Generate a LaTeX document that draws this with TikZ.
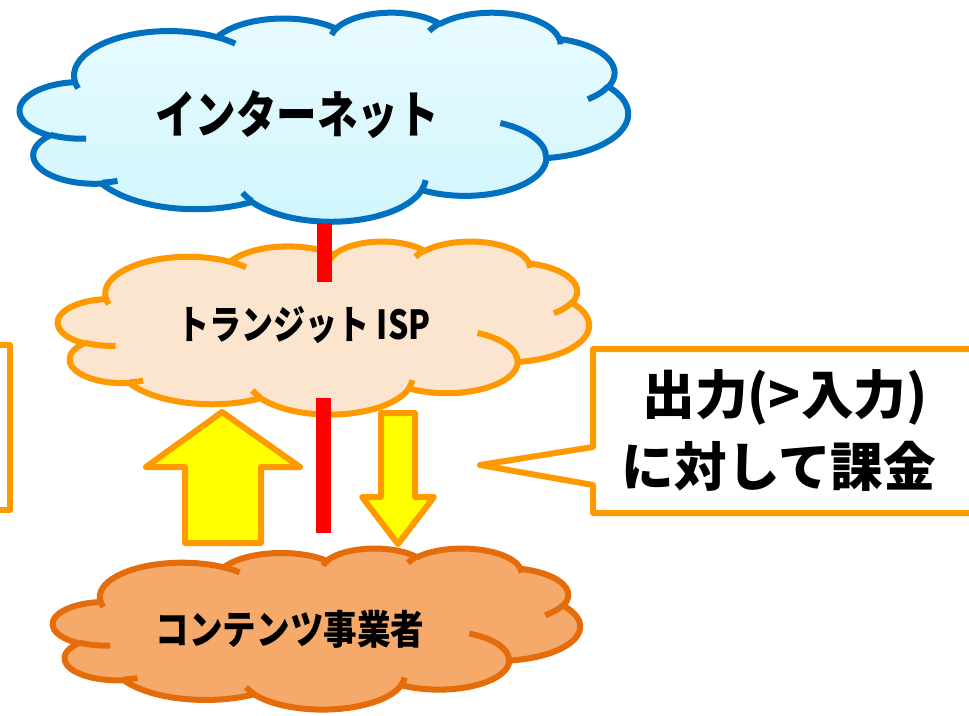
\documentclass[tikz,border=0pt]{standalone}
\usepackage{fontspec}
\newfontfamily\jpa{Noto Sans CJK JP}[FakeStretch=0.80]
\newfontfamily\jpb{Noto Sans CJK JP}[FakeStretch=0.84]
\newfontfamily\jp{Noto Sans CJK JP}
\definecolor{cblue}{HTML}{0070C0}
\definecolor{ctopA}{HTML}{E9FBFF}
\definecolor{ctopB}{HTML}{CFF6FD}
\definecolor{corange}{HTML}{FF9900}
\definecolor{cpeach}{HTML}{FBE5CF}
\definecolor{cdark}{HTML}{E46C0A}
\definecolor{cbottom}{HTML}{F5AA6B}
\definecolor{cred}{HTML}{FF0000}
\definecolor{cyellow}{HTML}{FFFF00}
% one elliptical arc of a DrawingML arcTo (visual angles -> parametric angles)
\newcommand\carc[4]{\pgfextra{%
  \pgfmathsetmacro\cta{atan2((#1)*sin(#3),(#2)*cos(#3))}%
  \pgfmathsetmacro\ctb{atan2((#1)*sin((#3)+(#4)),(#2)*cos((#3)+(#4)))}%
  \pgfmathsetmacro\ctd{mod(\ctb-\cta+720,360)}}%
  arc[start angle=\cta, delta angle=\ctd, x radius=#1, y radius=#2]}
\def\cloudmain{(39.00,143.70)
 \carc{67.53}{91.90}{-190.4875}{123.7805}
 \carc{53.33}{72.67}{-144.1024}{89.9452}
 \carc{43.65}{59.45}{-145.8079}{99.7230}
 \carc{48.57}{65.95}{-130.9861}{117.2417}
 \carc{53.33}{72.73}{-78.7089}{109.0269}
 \carc{67.75}{92.20}{-46.2673}{130.2690}
 \carc{57.85}{78.67}{0.6250}{114.0333}
 \carc{67.52}{92.15}{22.4516}{115.1726}
 \carc{77.20}{105.43}{66.2426}{75.7110}
 \carc{43.60}{59.18}{-274.9421}{146.7356}
 \carc{43.45}{59.45}{-246.8285}{152.5189}
 -- cycle}
\def\cloudinner{
 (46.93,261.77) \carc{43.45}{59.45}{86.7420}{26.4295}
 (69.28,348.99) \carc{43.60}{59.18}{73.6105}{11.4475}
 (164.78,390.90) \carc{67.52}{92.15}{137.6242}{14.0811}
 (288.27,347.51) \carc{67.52}{92.15}{6.4533}{15.9984}
 (341.29,229.54) \carc{57.85}{78.67}{-70.2924}{70.9174}
 (417.98,153.54) \carc{53.33}{72.73}{30.3180}{27.7515}
 (383.24,54.26) \carc{48.57}{65.95}{-13.7443}{14.8589}
 (290.78,39.52) \carc{48.57}{65.95}{-149.1815}{18.1954}
 (221.41,47.20) \carc{43.65}{59.45}{-163.4943}{17.6864}
 (140.00,51.92) \carc{67.53}{91.90}{-66.7070}{12.3194}
 (41.27,157.89) \carc{67.53}{91.90}{157.6544}{11.8582}}
% #1 fill options, #2 line options, #3 x, #4 y, #5 w, #6 h (pixels)
\newcommand\pptcloud[6]{%
  \begin{scope}[shift={(#3,#4)}, xscale=#5/432, yscale=#6/432]
    \path[#1] \cloudmain;
    \draw[#2] \cloudmain;
    \draw[#2] \cloudinner;
  \end{scope}}
\tikzset{
  cloudline/.style={line width=4.5pt, line join=round},
  redbar/.style={draw=cred, line width=11.25pt},
  fatarrow/.style={draw=corange, fill=cyellow, line width=4.5pt, line join=round},
  calloutbox/.style={draw=corange, fill=white, line width=4.5pt, line join=round},
  bigjp/.style={font=\jpa\bfseries\fontsize{38}{42}\selectfont, inner sep=0pt},
  midjp/.style={font=\jpa\bfseries\fontsize{30}{34}\selectfont, inner sep=0pt},
  lowjp/.style={font=\jpb\bfseries\fontsize{30}{34}\selectfont, inner sep=0pt},
  calljp/.style={font=\jp\bfseries\fontsize{39.5}{44}\selectfont, inner sep=0pt}
}
\begin{document}
\begin{tikzpicture}[x=0.75pt, y=-0.75pt]
\path[use as bounding box, clip] (0,0) rectangle (969,716);
% partial box at left edge
\draw[calloutbox] (-60,345) rectangle (10,510);
% callout at right
\draw[calloutbox] (593,349) -- (1010,349) -- (1010,513) -- (593,513) -- (593,485)
  -- (480,465) -- (593,447) -- cycle;
% clouds
\pptcloud{top color=ctopA, bottom color=ctopB}{cloudline, draw=cblue}{20}{12}{608}{209}
\pptcloud{fill=cpeach}{cloudline, draw=corange}{58}{241}{531}{173}
\pptcloud{fill=cbottom}{cloudline, draw=cdark}{53}{548}{527}{161}
% texts
\node[bigjp] (inet) at (297,115) {インターネット};
\node[midjp] (isp) at (304,325) {トランジット ISP};
\node[lowjp] (cp) at (290,629) {コンテンツ事業者};
\node[calljp] (c1) at (785,397) {出力(>入力)};
\node[calljp] (c2) at (779,466) {に対して課金};
% red links
\coordinate (r1a) at (324,223);
\coordinate (r1b) at (324,282);
\coordinate (r2a) at (323,398);
\coordinate (r2b) at (323,533);
\draw[redbar] (r1a) -- (r1b);
\draw[redbar] (r2a) -- (r2b);
% fat arrows
\draw[fatarrow] (222,412) -- (300,467) -- (261,467) -- (261,543) -- (185,543)
  -- (185,467) -- (146,467) -- cycle;
\draw[fatarrow] (381,413) -- (415,413) -- (415,497) -- (434,497) -- (398,544)
  -- (362,497) -- (381,497) -- cycle;
\end{tikzpicture}
\end{document}
